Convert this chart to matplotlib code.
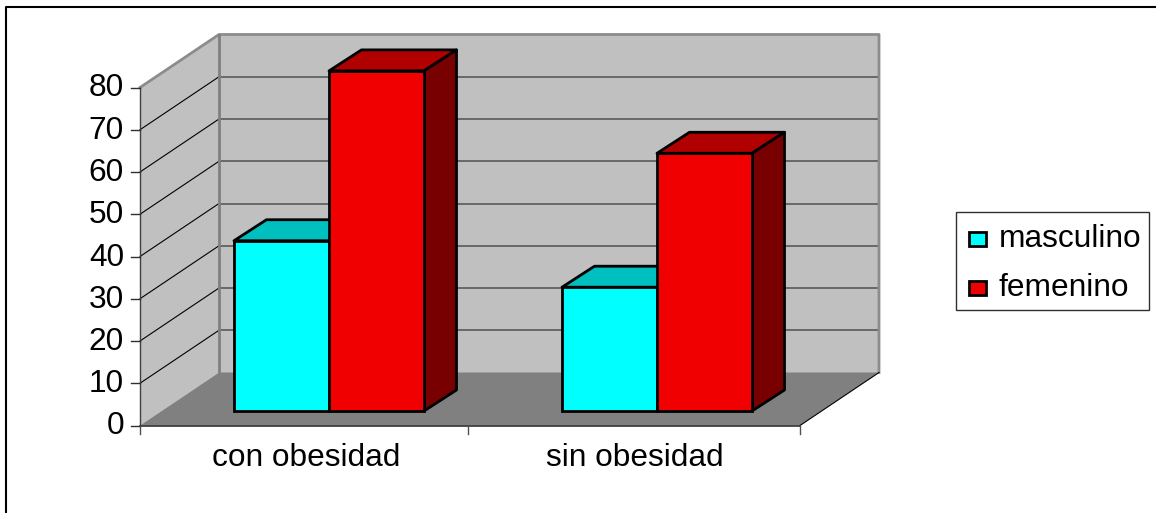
#! /usr/bin/python

import matplotlib
matplotlib.use('Agg')
import matplotlib.pyplot as plt
from matplotlib.patches import Polygon, Rectangle

categories = ['con obesidad', 'sin obesidad']
series_names = ['masculino', 'femenino']
masculino = [40.3, 29.3]
femenino = [80.5, 61.0]
yticks = [0, 10, 20, 30, 40, 50, 60, 70, 80]

# colours: front, top, side
cols = {'masculino': ('#00ffff', '#00bfbf', '#007f7f'),
        'femenino': ('#f00000', '#b00000', '#780000')}

# pixel geometry of the oblique box
X0 = 140
X1 = 800
Y0 = 425.5
PX_PER_UNIT = 4.225
DX = 79
DY = -53
BAR_W = 95
BAR_DX = 32.5
BAR_DY = -21
GROUP_STEP = 328
FS = 22.8

plt.rcParams['font.family'] = ['Liberation Sans', 'DejaVu Sans']

fig = plt.figure(figsize=(11.56, 5.13), dpi=100, facecolor='white')
ax = fig.add_axes([0, 0, 1, 1])
ax.set_xlim(0, 1156)
ax.set_ylim(513, 0)
ax.axis('off')


def yval(v):
    return Y0 - v * PX_PER_UNIT


# chart frame, right and bottom edges are cut off
ax.plot([6, 6, 1156], [513, 6.5, 6.5], color='black', lw=1.5)

# walls and floor
ymax = yticks[-1]
ax.add_patch(Polygon([(X0, Y0), (X0 + DX, Y0 + DY), (X0 + DX, yval(ymax) + DY), (X0, yval(ymax))],
                     fc='#c0c0c0', ec='none', zorder=1))
ax.add_patch(Rectangle((X0 + DX, yval(ymax) + DY), X1 - X0, ymax * PX_PER_UNIT,
                       fc='#c0c0c0', ec='none', zorder=1))
ax.add_patch(Polygon([(X0, Y0), (X1, Y0), (X1 + DX, Y0 + DY), (X0 + DX, Y0 + DY)],
                     fc='#808080', ec='none', zorder=1))

# gridlines
for v in yticks[1:-1]:
    ax.plot([X0, X0 + DX], [yval(v), yval(v) + DY], color='black', lw=0.8, zorder=2)
    ax.plot([X0 + DX, X1 + DX], [yval(v) + DY, yval(v) + DY], color='#505050', lw=1.1, zorder=2)

# wall edges
ax.plot([X0, X0 + DX, X1 + DX, X1 + DX],
        [yval(ymax), yval(ymax) + DY, yval(ymax) + DY, Y0 + DY], color='#8c8c8c', lw=2.0, zorder=3)
ax.plot([X0 + DX, X0 + DX], [yval(ymax) + DY, Y0 + DY], color='#808080', lw=2.0, zorder=3)
ax.plot([X1, X1 + DX], [Y0, Y0 + DY], color='black', lw=0.8, zorder=3)

# axes
ax.plot([X0, X0], [yval(ymax), Y0], color='#404040', lw=1.0, zorder=4)
ax.plot([X0, X1], [Y0, Y0], color='#303030', lw=1.2, zorder=4)
for v in yticks:
    ax.plot([X0 - 9, X0], [yval(v), yval(v)], color='#303030', lw=1.0, zorder=4)
    ax.text(X0 - 16, yval(v) + 1, str(v), ha='right', va='center', fontsize=FS, color='black')

for tx in [X0, X0 + GROUP_STEP, X1]:
    ax.plot([tx, tx], [Y0, Y0 + 8], color='#505050', lw=1.0, zorder=4)


def draw_bar(left, value, names):
    front, top, side = cols[names]
    base = Y0 - 14.5
    ytop = base - value * PX_PER_UNIT
    right = left + BAR_W
    z = 5 + left / 1000
    ax.add_patch(Polygon([(left, ytop), (right, ytop), (right + BAR_DX, ytop + BAR_DY),
                          (left + BAR_DX, ytop + BAR_DY)],
                         fc=top, ec='black', lw=2.0, joinstyle='round', zorder=z))
    ax.add_patch(Polygon([(right, ytop), (right + BAR_DX, ytop + BAR_DY),
                          (right + BAR_DX, base + BAR_DY), (right, base)],
                         fc=side, ec='black', lw=2.0, joinstyle='round', zorder=z))
    ax.add_patch(Rectangle((left, ytop), BAR_W, base - ytop,
                           fc=front, ec='black', lw=2.0, zorder=z + 0.01))


for i, cat in enumerate(categories):
    centre = X0 + 189 + i * GROUP_STEP
    draw_bar(centre - BAR_W, masculino[i], 'masculino')
    draw_bar(centre, femenino[i], 'femenino')
    ax.text(X0 + 166.5 + i * GROUP_STEP, 458.5, cat, ha='center', va='center', fontsize=FS, color='black')

# legend
ax.add_patch(Rectangle((956, 212), 193, 98, fc='white', ec='#303030', lw=1.0, zorder=6))
for k, name in enumerate(series_names):
    yk = 238.5 + k * 49
    ax.add_patch(Rectangle((969, yk - 7), 17, 14, fc=cols[name][0], ec='black', lw=2.0, zorder=7))
    ax.text(998.5, yk + 0.5, name, ha='left', va='center', fontsize=FS, color='black', zorder=7)

fig.savefig('out.png', dpi=100)
